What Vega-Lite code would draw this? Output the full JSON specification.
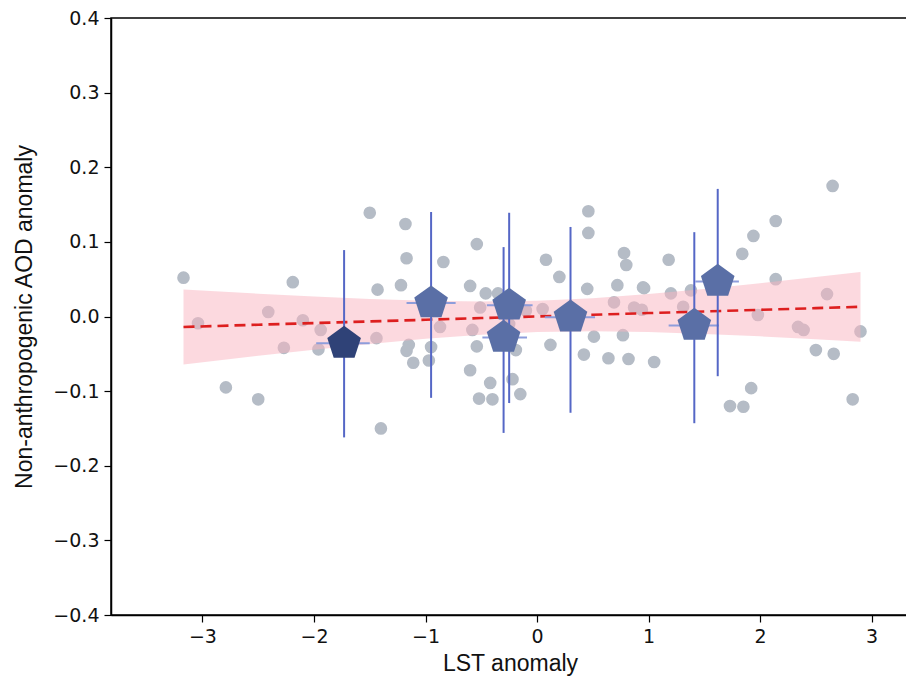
{
  "$schema": "https://vega.github.io/schema/vega-lite/v6.json",
  "autosize": {"type": "none"},
  "padding": {"left": 111, "top": 18, "right": 0, "bottom": 73},
  "width": 798,
  "height": 597,
  "background": "white",
  "config": {
    "view": {"stroke": "black", "strokeWidth": 1.5},
    "axis": {
      "grid": false,
      "domainColor": "black",
      "domainWidth": 1.5,
      "tickColor": "black",
      "tickSize": 7,
      "tickWidth": 1.2,
      "labelFont": "DejaVu Sans",
      "labelFontSize": 19,
      "labelColor": "#111111",
      "titleFont": "Liberation Sans",
      "titleFontSize": 23,
      "titleFontWeight": "normal",
      "titleColor": "#111111"
    }
  },
  "datasets": {
    "obs": [
      {"lst": -3.17, "aod": 0.052}, {"lst": -3.04, "aod": -0.009}, {"lst": -2.79, "aod": -0.095},
      {"lst": -2.50, "aod": -0.111}, {"lst": -2.41, "aod": 0.006}, {"lst": -2.19, "aod": 0.046},
      {"lst": -2.27, "aod": -0.042}, {"lst": -2.10, "aod": -0.005}, {"lst": -1.96, "aod": -0.044},
      {"lst": -1.94, "aod": -0.018}, {"lst": -1.50, "aod": 0.139}, {"lst": -1.43, "aod": 0.036},
      {"lst": -1.44, "aod": -0.029}, {"lst": -1.40, "aod": -0.150}, {"lst": -1.18, "aod": 0.124},
      {"lst": -1.17, "aod": 0.078}, {"lst": -0.84, "aod": 0.073}, {"lst": -1.22, "aod": 0.042},
      {"lst": -1.15, "aod": -0.038}, {"lst": -1.17, "aod": -0.046}, {"lst": -1.11, "aod": -0.062},
      {"lst": -0.95, "aod": -0.041}, {"lst": -0.97, "aod": -0.059}, {"lst": -0.54, "aod": 0.097},
      {"lst": -0.60, "aod": 0.041}, {"lst": -0.46, "aod": 0.031}, {"lst": -0.35, "aod": 0.031},
      {"lst": -0.54, "aod": -0.040}, {"lst": -0.60, "aod": -0.072}, {"lst": -0.42, "aod": -0.089},
      {"lst": -0.52, "aod": -0.110}, {"lst": -0.40, "aod": -0.111}, {"lst": -0.22, "aod": -0.084},
      {"lst": -0.15, "aod": -0.104}, {"lst": -0.19, "aod": -0.045}, {"lst": 0.08, "aod": 0.076},
      {"lst": 0.20, "aod": 0.053}, {"lst": 0.46, "aod": 0.141}, {"lst": 0.46, "aod": 0.112},
      {"lst": 0.12, "aod": -0.038}, {"lst": 0.45, "aod": 0.037}, {"lst": 0.78, "aod": 0.085},
      {"lst": 0.80, "aod": 0.069}, {"lst": 0.72, "aod": 0.042}, {"lst": 0.95, "aod": 0.039},
      {"lst": 0.42, "aod": -0.051}, {"lst": 0.51, "aod": -0.027}, {"lst": 0.64, "aod": -0.056},
      {"lst": 0.82, "aod": -0.057}, {"lst": 1.05, "aod": -0.061}, {"lst": 0.77, "aod": -0.025},
      {"lst": 0.69, "aod": 0.019}, {"lst": 0.87, "aod": 0.012}, {"lst": -0.51, "aod": 0.012},
      {"lst": -0.87, "aod": -0.014}, {"lst": -0.58, "aod": -0.018}, {"lst": -0.10, "aod": 0.008},
      {"lst": 0.05, "aod": 0.010}, {"lst": -0.25, "aod": -0.010}, {"lst": 2.65, "aod": 0.175},
      {"lst": 2.14, "aod": 0.128}, {"lst": 1.94, "aod": 0.108}, {"lst": 1.84, "aod": 0.084},
      {"lst": 1.18, "aod": 0.076}, {"lst": 2.14, "aod": 0.050}, {"lst": 0.96, "aod": 0.038},
      {"lst": 1.20, "aod": 0.031}, {"lst": 1.38, "aod": 0.035}, {"lst": 0.94, "aod": 0.009},
      {"lst": 1.31, "aod": 0.013}, {"lst": 1.98, "aod": 0.002}, {"lst": 2.34, "aod": -0.014},
      {"lst": 2.39, "aod": -0.018}, {"lst": 2.90, "aod": -0.020}, {"lst": 2.50, "aod": -0.045},
      {"lst": 2.66, "aod": -0.050}, {"lst": 1.92, "aod": -0.096}, {"lst": 1.73, "aod": -0.120},
      {"lst": 1.85, "aod": -0.121}, {"lst": 2.83, "aod": -0.111}, {"lst": 2.60, "aod": 0.030}
    ],
    "fit": [
      {"lst": -3.17, "fit": -0.0140, "lo": -0.0642, "hi": 0.0362},
      {"lst": -2.5, "fit": -0.0110, "lo": -0.0526, "hi": 0.0306},
      {"lst": -2.0, "fit": -0.0088, "lo": -0.0444, "hi": 0.0268},
      {"lst": -1.5, "fit": -0.0066, "lo": -0.0367, "hi": 0.0235},
      {"lst": -1.0, "fit": -0.0044, "lo": -0.0298, "hi": 0.0210},
      {"lst": -0.5, "fit": -0.0021, "lo": -0.0243, "hi": 0.0201},
      {"lst": 0.0, "fit": 0.0001, "lo": -0.0209, "hi": 0.0211},
      {"lst": 0.5, "fit": 0.0023, "lo": -0.0199, "hi": 0.0245},
      {"lst": 1.0, "fit": 0.0046, "lo": -0.0208, "hi": 0.0300},
      {"lst": 1.5, "fit": 0.0068, "lo": -0.0233, "hi": 0.0369},
      {"lst": 2.0, "fit": 0.0090, "lo": -0.0266, "hi": 0.0446},
      {"lst": 2.5, "fit": 0.0112, "lo": -0.0304, "hi": 0.0528},
      {"lst": 2.9, "fit": 0.0130, "lo": -0.0337, "hi": 0.0597}
    ],
    "bins": [
      {"lst": -1.73, "aod": -0.036, "ylo": -0.162, "yhi": 0.089, "xlo": -1.98, "xhi": -1.50},
      {"lst": -0.95, "aod": 0.018, "ylo": -0.109, "yhi": 0.140, "xlo": -1.17, "xhi": -0.73},
      {"lst": -0.25, "aod": 0.015, "ylo": -0.116, "yhi": 0.139, "xlo": -0.45, "xhi": -0.04},
      {"lst": -0.30, "aod": -0.028, "ylo": -0.156, "yhi": 0.093, "xlo": -0.49, "xhi": -0.09},
      {"lst": 0.30, "aod": -0.001, "ylo": -0.129, "yhi": 0.120, "xlo": 0.07, "xhi": 0.52},
      {"lst": 1.41, "aod": -0.012, "ylo": -0.143, "yhi": 0.113, "xlo": 1.18, "xhi": 1.63},
      {"lst": 1.62, "aod": 0.047, "ylo": -0.080, "yhi": 0.171, "xlo": 1.42, "xhi": 1.81}
    ]
  },
  "layer": [
    {
      "data": {"name": "obs"},
      "mark": {"type": "circle", "size": 160, "color": "#b5bcc6", "opacity": 1},
      "encoding": {
        "x": {
          "field": "lst", "type": "quantitative",
          "scale": {"domain": [-3.82, 3.335], "nice": false, "zero": false},
          "axis": {"values": [-3, -2, -1, 0, 1, 2, 3], "format": "d", "title": "LST anomaly", "titlePadding": 6, "labelPadding": 5}
        },
        "y": {
          "field": "aod", "type": "quantitative",
          "scale": {"domain": [-0.4, 0.4], "nice": false, "zero": false},
          "axis": {
            "values": [-0.4, -0.3, -0.2, -0.1, 0, 0.1, 0.2, 0.3, 0.4],
            "format": ".1f",
            "title": "Non-anthropogenic AOD anomaly",
            "titlePadding": 16,
            "labelPadding": 5
          }
        }
      }
    },
    {
      "data": {"name": "fit"},
      "mark": {"type": "area", "color": "#f9b3c0", "opacity": 0.5},
      "encoding": {
        "x": {"field": "lst", "type": "quantitative"},
        "y": {"field": "lo", "type": "quantitative"},
        "y2": {"field": "hi"}
      }
    },
    {
      "data": {"name": "fit"},
      "mark": {"type": "line", "color": "#dd1f1f", "strokeWidth": 2.6, "strokeDash": [11, 6]},
      "encoding": {
        "x": {"field": "lst", "type": "quantitative"},
        "y": {"field": "fit", "type": "quantitative"}
      }
    },
    {
      "data": {"name": "bins"},
      "mark": {"type": "rule", "color": "#8e9ddb", "strokeWidth": 2},
      "encoding": {
        "y": {"field": "aod", "type": "quantitative"},
        "x": {"field": "xlo", "type": "quantitative"},
        "x2": {"field": "xhi"}
      }
    },
    {
      "data": {"name": "bins"},
      "mark": {"type": "rule", "color": "#5567c6", "strokeWidth": 2},
      "encoding": {
        "x": {"field": "lst", "type": "quantitative"},
        "y": {"field": "ylo", "type": "quantitative"},
        "y2": {"field": "yhi"}
      }
    },
    {
      "data": {"name": "bins"},
      "mark": {
        "type": "point",
        "shape": "M0,-1L0.951,-0.309L0.588,0.809L-0.588,0.809L-0.951,-0.309Z",
        "size": 1250,
        "filled": true,
        "opacity": 1
      },
      "encoding": {
        "x": {"field": "lst", "type": "quantitative"},
        "y": {"field": "aod", "type": "quantitative"},
        "color": {
          "condition": {"test": "datum.lst < -1.5", "value": "#2f4277"},
          "value": "#5a6fa6"
        }
      }
    }
  ]
}
